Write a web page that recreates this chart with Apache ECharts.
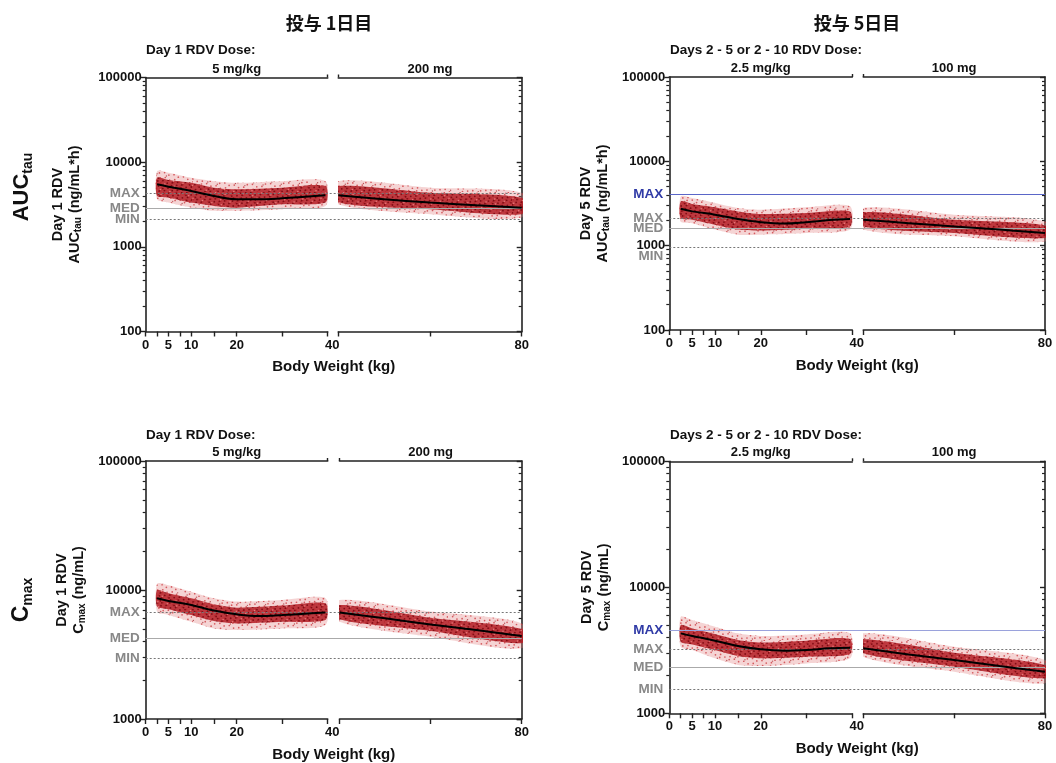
<!DOCTYPE html>
<html><head><meta charset="utf-8">
<script src="https://cdn.jsdelivr.net/npm/echarts@6/dist/echarts.min.js"></script>
<style>html,body{margin:0;padding:0;background:#fff}#c{width:1056px;height:763px}</style>
</head><body><div id="c"></div><script>
// ---------------- data ----------------
const weightTicksLeft = [0, 2.5, 5, 7.5, 10, 15, 20, 30, 40];
const weightLabelsLeft = [0, 5, 10, 20, 40];
const weightTicksRight = [40, 60, 80];
const weightLabelsRight = [80];

const bandKgLeft = [2.5, 5, 10, 15, 20, 30, 39.5];
const bandKgRight = [40, 60, 80];
const medKgLeft = [2.5, 5, 10, 15, 20, 25, 30, 35, 39.5];
const medKgRight = [40, 50, 60, 70, 80];

// Day 1 AUCtau
const aucD1MedL = [5470, 5130, 4560, 3980, 3640, 3640, 3740, 3900, 4060];
const aucD1MedR = [4060, 3640, 3330, 3100, 2900];
const aucD1OuterHiL = [7830, 7500, 6550, 5970, 5710, 5970, 5970];
const aucD1OuterLoL = [3640, 3330, 2900, 2660, 2660, 2780, 3040];
const aucD1CoreHiL = [6550, 6150, 5710, 5000, 4780, 5000, 5230];
const aucD1CoreLoL = [3980, 3810, 3330, 3040, 2900, 3180, 3330];
const aucD1OuterHiR = [5970, 5000, 4360];
const aucD1OuterLoR = [3180, 2430, 2220];
const aucD1CoreHiR = [5230, 4360, 3810];
const aucD1CoreLoR = [3330, 2780, 2430];
const aucD1RefValues = [4290, 2830, 2120];
const aucD1RefLabels = ['MAX', 'MED', 'MIN'];
const aucD1RefKinds = ['dot', 'solid', 'dot'];

// Day 5 AUCtau
const aucD5MedL = [2740, 2550, 2330, 2070, 1900, 1830, 1900, 2010, 2070];
const aucD5MedR = [2030, 1850, 1690, 1550, 1410];
const aucD5OuterHiL = [3840, 3670, 3210, 2800, 2670, 2850, 2930];
const aucD5OuterLoL = [1940, 1850, 1550, 1350, 1350, 1410, 1550];
const aucD5CoreHiL = [3350, 3120, 2850, 2550, 2370, 2440, 2550];
const aucD5CoreLoL = [2130, 2030, 1770, 1550, 1510, 1590, 1690];
const aucD5OuterHiR = [2800, 2330, 1940];
const aucD5OuterLoR = [1550, 1290, 1120];
const aucD5CoreHiR = [2500, 2030, 1740];
const aucD5CoreLoR = [1690, 1410, 1230];
const aucD5RefValues = [4020, 2130, 1620, 946];
const aucD5RefLabels = ['MAX', 'MAX', 'MED', 'MIN'];
const aucD5RefKinds = ['blue', 'dot', 'solid', 'dotLow'];

// Day 1 Cmax
const cmaxD1MedL = [8620, 8220, 7660, 6930, 6480, 6290, 6400, 6550, 6700];
const cmaxD1MedR = [6700, 6030, 5410, 4890, 4400];
const cmaxD1OuterHiL = [11200, 10900, 9710, 8620, 8130, 8380, 8620];
const cmaxD1OuterLoL = [6800, 6400, 5680, 5040, 4890, 5040, 5350];
const cmaxD1CoreHiL = [10000, 9430, 8620, 7750, 7300, 7570, 7890];
const cmaxD1CoreLoL = [7440, 7100, 6400, 5750, 5510, 5680, 5850];
const cmaxD1OuterHiR = [8380, 6800, 5510];
const cmaxD1OuterLoR = [5680, 4350, 3530];
const cmaxD1CoreHiR = [7660, 6100, 4980];
const cmaxD1CoreLoR = [5920, 4810, 3860];
const cmaxD1RefValues = [6670, 4230, 2960];
const cmaxD1RefLabels = ['MAX', 'MED', 'MIN'];
const cmaxD1RefKinds = ['dot', 'solid', 'dot'];

// Day 5 Cmax
const cmaxD5MedL = [4310, 4110, 3770, 3420, 3220, 3140, 3180, 3280, 3320];
const cmaxD5MedR = [3280, 2930, 2650, 2370, 2140];
const cmaxD5OuterHiL = [5850, 5500, 4870, 4310, 4110, 4230, 4310];
const cmaxD5OuterLoL = [3380, 3180, 2730, 2420, 2370, 2490, 2730];
const cmaxD5CoreHiL = [5020, 4720, 4260, 3820, 3640, 3770, 3890];
const cmaxD5CoreLoL = [3700, 3520, 3180, 2850, 2730, 2810, 2950];
const cmaxD5OuterHiR = [4310, 3380, 2650];
const cmaxD5OuterLoR = [2810, 2140, 1730];
const cmaxD5CoreHiR = [3870, 3030, 2420];
const cmaxD5CoreLoR = [2990, 2340, 1890];
const cmaxD5RefValues = [4530, 3240, 2330, 1550];
const cmaxD5RefLabels = ['MAX', 'MAX', 'MED', 'MIN'];
const cmaxD5RefKinds = ['blueLight', 'dot', 'solid', 'dot'];

// ---------------- layout / style ----------------
const FONT = 'Liberation Sans, Arial, Helvetica, sans-serif';
const AX = '#222';
const panels = [
  {l:145.7, wl:182, r:338.3, wr:183.4, t:77.5, h:254, ymin:100, ymax:100000, nameGap:62,
   yName:'Day 1 RDV\nAUC{s|tau} (ng/mL*h)', doseL:'5 mg/kg', doseR:'200 mg',
   med:[aucD1MedL, aucD1MedR], outer:[[aucD1OuterHiL, aucD1OuterLoL],[aucD1OuterHiR, aucD1OuterLoR]],
   core:[[aucD1CoreHiL, aucD1CoreLoL],[aucD1CoreHiR, aucD1CoreLoR]],
   refs:[aucD1RefValues, aucD1RefLabels, aucD1RefKinds]},
  {l:669.3, wl:183, r:863.3, wr:181.7, t:77, h:253, ymin:100, ymax:100000, nameGap:58,
   yName:'Day 5 RDV\nAUC{s|tau} (ng/mL*h)', doseL:'2.5 mg/kg', doseR:'100 mg',
   med:[aucD5MedL, aucD5MedR], outer:[[aucD5OuterHiL, aucD5OuterLoL],[aucD5OuterHiR, aucD5OuterLoR]],
   core:[[aucD5CoreHiL, aucD5CoreLoL],[aucD5CoreHiR, aucD5CoreLoR]],
   refs:[aucD5RefValues, aucD5RefLabels, aucD5RefKinds]},
  {l:145.7, wl:182, r:339.5, wr:182.2, t:461, h:258, ymin:1000, ymax:100000, nameGap:58,
   yName:'Day 1 RDV\nC{s|max} (ng/mL)', doseL:'5 mg/kg', doseR:'200 mg',
   med:[cmaxD1MedL, cmaxD1MedR], outer:[[cmaxD1OuterHiL, cmaxD1OuterLoL],[cmaxD1OuterHiR, cmaxD1OuterLoR]],
   core:[[cmaxD1CoreHiL, cmaxD1CoreLoL],[cmaxD1CoreHiR, cmaxD1CoreLoR]],
   refs:[cmaxD1RefValues, cmaxD1RefLabels, cmaxD1RefKinds]},
  {l:669.3, wl:183, r:863.3, wr:181.7, t:461.3, h:252, ymin:1000, ymax:100000, nameGap:57,
   yName:'Day 5 RDV\nC{s|max} (ng/mL)', doseL:'2.5 mg/kg', doseR:'100 mg',
   med:[cmaxD5MedL, cmaxD5MedR], outer:[[cmaxD5OuterHiL, cmaxD5OuterLoL],[cmaxD5OuterHiR, cmaxD5OuterLoR]],
   core:[[cmaxD5CoreHiL, cmaxD5CoreLoL],[cmaxD5CoreHiR, cmaxD5CoreLoR]],
   refs:[cmaxD5RefValues, cmaxD5RefLabels, cmaxD5RefKinds]}
];

function minorTicks(min, max) {
  const out = [];
  for (let d = min; d < max; d *= 10) for (let k = 2; k <= 9; k++) out.push(d * k);
  return out;
}
// fixed (low-discrepancy, non-random) speckle texture for the dense simulated-point clouds
function makePattern(base, layers, size) {
  const cv = document.createElement('canvas');
  cv.width = cv.height = size;
  const ctx = cv.getContext('2d');
  ctx.fillStyle = base; ctx.fillRect(0, 0, size, size);
  const g1 = 0.7548776662, g2 = 0.5698402910;
  layers.forEach(([color, count, offset, r]) => {
    ctx.fillStyle = color;
    for (let k = 1; k <= count; k++) {
      const n = k + offset;
      const x = ((n * g1) % 1) * size, y = ((n * g2) % 1) * size;
      ctx.beginPath(); ctx.arc(x, y, r, 0, Math.PI * 2); ctx.fill();
    }
  });
  return {type:'pattern', image:cv, repeat:'repeat'};
}
const corePattern = makePattern('rgba(180,32,38,0.86)',
  [['rgba(120,6,14,0.85)', 260, 0, 0.9], ['rgba(240,140,140,0.8)', 70, 500, 0.75]], 64);
const outerPattern = makePattern('rgba(226,128,128,0.34)',
  [['rgba(205,60,66,0.8)', 190, 1000, 0.85], ['rgba(150,15,22,0.65)', 50, 1500, 0.7]], 64);

const refStyles = {
  dot:   {line:{color:'#777', type:[2,2], width:1}, label:{color:'#888'}},
  dotLow:{line:{color:'#777', type:[2,2], width:1}, label:{color:'#888', lineHeight:17}, fmt:'\n{b}'},
  solid: {line:{color:'#aaa', type:'solid', width:1.2}, label:{color:'#888'}},
  blue:  {line:{color:'#5a66c8', type:'solid', width:1.2}, label:{color:'#2f3aa6'}},
  blueLight:{line:{color:'#9aa2dc', type:'solid', width:1.2}, label:{color:'#2f3aa6'}}
};
const zip = (xs, ys) => xs.map((x, i) => [x, ys[i]]);

const grid = [], xAxis = [], yAxis = [], series = [];
const lab = {fontFamily:FONT, fontWeight:'bold', fontSize:13, color:'#111'};

function band(xi, yi, xs, hi, lo, fill, z) {
  return {type:'custom', xAxisIndex:xi, yAxisIndex:yi, z, silent:true, clip:true,
    data:[[xs[0], hi[0]]],
    renderItem(params, api) {
      const pts = xs.map((x, i) => api.coord([x, hi[i]]));
      for (let i = xs.length - 1; i >= 0; i--) pts.push(api.coord([xs[i], lo[i]]));
      return {type:'polygon', shape:{points:pts, smooth:0.25}, style:{fill}};
    }};
}

panels.forEach((p, pi) => {
  const g0 = grid.length;
  grid.push({left:p.l, top:p.t, width:p.wl, height:p.h});
  grid.push({left:p.r, top:p.t, width:p.wr, height:p.h});
  grid.push({left:p.l, top:p.t, width:p.r + p.wr - p.l, height:p.h});
  const segs = [
    {min:0, max:40, ticks:weightTicksLeft, labels:weightLabelsLeft, dose:p.doseL, kg:bandKgLeft, mkg:medKgLeft, yPos:'left'},
    {min:40, max:80, ticks:weightTicksRight, labels:weightLabelsRight, dose:p.doseR, kg:bandKgRight, mkg:medKgRight, yPos:'right'}
  ];
  segs.forEach((s, si) => {
    const gi = g0 + si;
    const xb = xAxis.length;
    xAxis.push({type:'value', gridIndex:gi, min:s.min, max:s.max, position:'bottom',
      axisLine:{show:true, onZero:false, lineStyle:{color:AX, width:1.6}},
      axisTick:{show:true, customValues:s.ticks, length:5, lineStyle:{color:AX, width:1.4}},
      axisLabel:{show:true, customValues:s.labels, margin:7, ...lab,
        formatter:v => (si === 0 && v === 40) ? '{r|40}' : String(v),
        rich:{r:{...lab, padding:[0, 0, 0, 9]}}},
      splitLine:{show:false}});
    xAxis.push({type:'value', gridIndex:gi, min:s.min, max:s.max, position:'top',
      axisLine:{show:true, onZero:false, lineStyle:{color:AX, width:1.6}},
      axisTick:{show:true, customValues:[40], length:3, lineStyle:{color:AX, width:1.4}},
      axisLabel:{show:false}, splitLine:{show:false},
      name:s.dose, nameLocation:'middle', nameGap:2,
      nameTextStyle:{fontFamily:FONT, fontWeight:'bold', fontSize:13, color:'#111', verticalAlign:'bottom'}});
    const yb = yAxis.length;
    const inside = s.yPos === 'right';
    const main = {type:'log', logBase:10, gridIndex:gi, min:p.ymin, max:p.ymax, position:s.yPos,
      axisLine:{show:true, onZero:false, lineStyle:{color:AX, width:1.6}},
      axisTick:{show:true, inside, length:5, lineStyle:{color:AX, width:1.4}},
      axisLabel:{show:!inside, margin:4, ...lab, formatter:v => String(Math.round(v))},
      splitLine:{show:false}, minorSplitLine:{show:false}};
    if (!inside) {
      Object.assign(main, {name:p.yName, nameLocation:'middle', nameRotate:90, nameGap:p.nameGap,
        nameTextStyle:{fontFamily:FONT, fontWeight:'bold', fontSize:14.5, color:'#111', lineHeight:17, align:'center',
          rich:{s:{fontFamily:FONT, fontWeight:'bold', fontSize:10, color:'#111', verticalAlign:'bottom', lineHeight:12}}}});
    }
    yAxis.push(main);
    yAxis.push({type:'log', logBase:10, gridIndex:gi, min:p.ymin, max:p.ymax, position:s.yPos,
      axisLine:{show:false}, axisLabel:{show:false}, splitLine:{show:false},
      axisTick:{show:true, inside, length:3, customValues:minorTicks(p.ymin, p.ymax), lineStyle:{color:AX, width:1.2}}});
    const o = p.outer[si], c = p.core[si];
    series.push(band(xb, yb, s.kg, o[0], o[1], outerPattern, 3));
    series.push(band(xb, yb, s.kg, c[0], c[1], corePattern, 4));
    series.push({type:'line', xAxisIndex:xb, yAxisIndex:yb, z:6, silent:true, smooth:0.4,
      showSymbol:false, symbol:'none', data:zip(s.mkg, p.med[si]),
      lineStyle:{color:'#000', width:2}});
  });
  // overlay grid: reference lines and x axis name
  const xo = xAxis.length, yo = yAxis.length;
  xAxis.push({type:'value', gridIndex:g0 + 2, min:0, max:1, position:'bottom',
    axisLine:{show:false}, axisTick:{show:false}, axisLabel:{show:false}, splitLine:{show:false},
    name:'Body Weight (kg)', nameLocation:'middle', nameGap:28,
    nameTextStyle:{fontFamily:FONT, fontWeight:'bold', fontSize:15, color:'#111'}});
  yAxis.push({type:'log', logBase:10, gridIndex:g0 + 2, min:p.ymin, max:p.ymax, show:false});
  const [vals, labels, kinds] = p.refs;
  series.push({type:'line', xAxisIndex:xo, yAxisIndex:yo, z:1, silent:true, data:[],
    markLine:{silent:true, symbol:['none','none'], animation:false,
      data:vals.map((v, i) => {
        const st = refStyles[kinds[i]];
        return {yAxis:v, name:labels[i], lineStyle:st.line,
          label:Object.assign({show:true, position:'start', distance:6, formatter:st.fmt || '{b}',
            fontFamily:FONT, fontWeight:'bold', fontSize:13.5}, st.label)};
      })}});
});

const headTxt = (x, y, text, size, align) => ({type:'text', x, y,
  style:{text, fontFamily:FONT, fontWeight:'bold', fontSize:size, fill:'#111', align:align || 'left', verticalAlign:'middle'}});
const jp = 'Noto Sans CJK JP, Noto Sans CJK SC, sans-serif';
const graphic = [
  {type:'text', x:329, y:23, style:{text:'投与 1日目', fontFamily:jp, fontWeight:'bold', fontSize:18, fill:'#111', align:'center', verticalAlign:'middle'}},
  {type:'text', x:857, y:23, style:{text:'投与 5日目', fontFamily:jp, fontWeight:'bold', fontSize:18, fill:'#111', align:'center', verticalAlign:'middle'}},
  headTxt(146, 50, 'Day 1 RDV Dose:', 13.5),
  headTxt(670, 50, 'Days 2 - 5 or 2 - 10 RDV Dose:', 13.5),
  headTxt(146, 435, 'Day 1 RDV Dose:', 13.5),
  headTxt(670, 435, 'Days 2 - 5 or 2 - 10 RDV Dose:', 13.5),
  {type:'text', x:22, y:187, rotation:Math.PI / 2,
   style:{text:'{a|AUC}{s|tau}', align:'center', verticalAlign:'middle',
     rich:{a:{fontFamily:FONT, fontWeight:'bold', fontSize:22, fill:'#111', lineHeight:26, verticalAlign:'middle'},
           s:{fontFamily:FONT, fontWeight:'bold', fontSize:14, fill:'#111', lineHeight:16, verticalAlign:'bottom'}}}},
  {type:'text', x:22, y:600, rotation:Math.PI / 2,
   style:{text:'{a|C}{s|max}', align:'center', verticalAlign:'middle',
     rich:{a:{fontFamily:FONT, fontWeight:'bold', fontSize:23, fill:'#111', lineHeight:26, verticalAlign:'middle'},
           s:{fontFamily:FONT, fontWeight:'bold', fontSize:14, fill:'#111', lineHeight:16, verticalAlign:'bottom'}}}}
];

const chart = echarts.init(document.getElementById('c'), null, {renderer:'canvas'});
chart.setOption({animation:false, backgroundColor:'#fff', textStyle:{fontFamily:FONT},
  grid, xAxis, yAxis, series, graphic});
</script></body></html>
